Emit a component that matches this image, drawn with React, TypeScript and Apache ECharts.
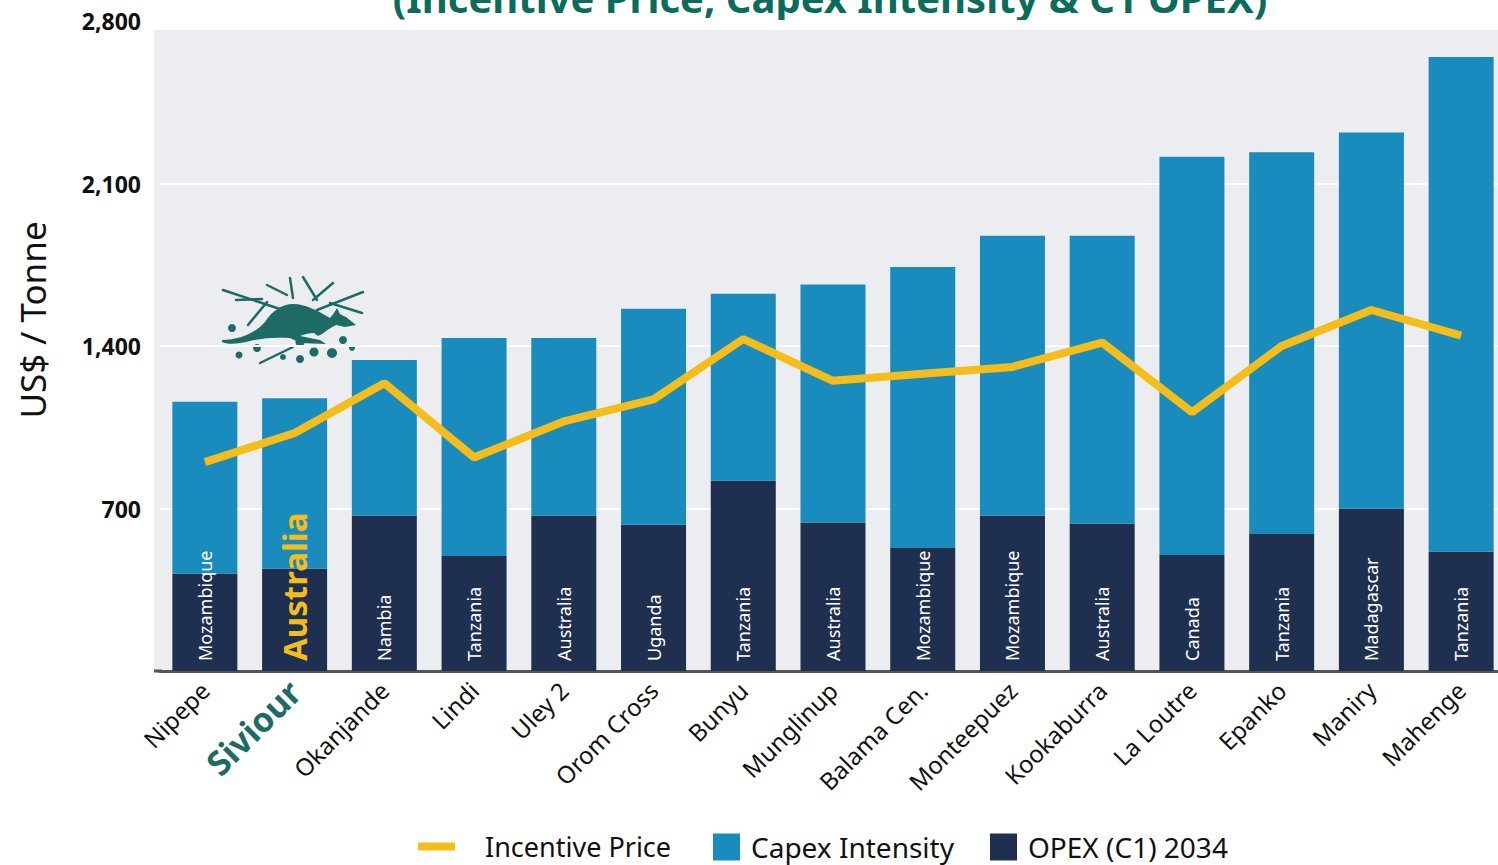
import React, { useEffect, useRef } from "react";
import * as echarts from "echarts";

const categories = ["Nipepe", "Siviour", "Okanjande", "Lindi", "Uley 2", "Orom Cross", "Bunyu", "Munglinup", "Balama Cen.", "Monteepuez", "Kookaburra", "La Loutre", "Epanko", "Maniry", "Mahenge"];
const countries = ["Mozambique", "Australia", "Nambia", "Tanzania", "Australia", "Uganda", "Tanzania", "Australia", "Mozambique", "Mozambique", "Australia", "Canada", "Tanzania", "Madagascar", "Tanzania"];
const opex = [420, 440, 670, 495, 670, 630, 820, 640, 530, 670, 635, 500, 590, 700, 515];
const capex = [740, 735, 670, 940, 765, 930, 805, 1025, 1210, 1205, 1240, 1715, 1645, 1620, 2130];
const incentive = [900, 1025, 1240, 920, 1075, 1170, 1430, 1250, 1280, 1310, 1415, 1115, 1400, 1555, 1445];
const highlight = "Siviour";

const FONT = "'Noto Sans',sans-serif";
const TEAL = "#1d6b64";

const kangarooPath =
  "M222,340 C240,340 255,333 265,322 C272,311 282,304 293,304 C306,304 318,311 330,318 L334,313 L337,308 L340,314 L346,317 L356,325 L345,327 L336,325 C330,328 326,331 322,334 L318,336 L314,333 C310,333 305,334 300,336 L320,340 L326,344 L300,343 L290,338 C275,337 262,338 250,341 C238,344 228,345 222,342 Z";

const sticks = [
  [223, 290, 283, 310],
  [248, 325, 267, 302],
  [290, 278, 293, 298],
  [303, 277, 317, 300],
  [363, 292, 317, 310],
  [333, 283, 313, 300],
  [362, 313, 330, 303],
  [267, 285, 287, 295],
  [236, 300, 262, 299],
  [260, 363, 293, 347],
];
const dots = [
  [232, 328, 4], [239, 355, 3.5], [257, 348, 4], [283, 357, 3], [300, 342, 4.5],
  [300, 359, 4], [314, 352, 4.5], [332, 353, 5], [343, 340, 4], [352, 348, 3],
];

export default function App() {
  const ref = useRef<HTMLDivElement>(null);
  useEffect(() => {
    document.body.style.margin = "0";
    document.body.style.overflow = "hidden";
    document.documentElement.style.overflow = "hidden";
    try {
      echarts.graphic.registerShape("kangaroo", echarts.graphic.extendPath(kangarooPath, {}));
    } catch (e) {}
    const chart = echarts.init(ref.current!, null, { renderer: "svg" });
    const graphics: any[] = [
      { type: "rect", z: -10, shape: { x: 154, y: 30, width: 1352, height: 643 }, style: { fill: "#ecedf1" } },
      { type: "line", shape: { x1: 154, y1: 671, x2: 162, y2: 671 }, style: { stroke: "#555", lineWidth: 3 } },
      {
        type: "text", x: 830, y: 17,
        style: { text: "(Incentive Price, Capex Intensity & C1 OPEX)", fill: "#0b6b5d", font: `bold 40px ${FONT}`, textAlign: "center", textVerticalAlign: "bottom" },
      },
      {
        type: "text", x: 32, y: 320, rotation: Math.PI / 2,
        style: { text: "US$ / Tonne", fill: "#111", font: `35px ${FONT}`, textAlign: "center", textVerticalAlign: "middle" },
      },
      { type: "kangaroo", x: 0, y: 0, style: { fill: TEAL } },
      ...sticks.map((s) => ({ type: "line", shape: { x1: s[0], y1: s[1], x2: s[2], y2: s[3] }, style: { stroke: TEAL, lineWidth: 2.5, lineCap: "round" } })),
      ...dots.map((d) => ({ type: "circle", shape: { cx: d[0], cy: d[1], r: d[2] }, style: { fill: TEAL } })),
    ];
    chart.setOption({
      animation: false,
      grid: { left: 160, right: 0, top: 21, bottom: 194 },
      graphic: graphics,
      legend: [
        {
          data: [{ name: "Incentive Price", icon: "rect" }],
          left: 413, top: 828, itemWidth: 37, itemHeight: 8,
          textStyle: { fontSize: 27, color: "#111", fontFamily: FONT, padding: [0, 0, 0, 25] },
        },
        {
          data: [{ name: "Capex Intensity", icon: "rect" }, { name: "OPEX (C1) 2034", icon: "rect" }],
          left: 708, top: 828, itemWidth: 27, itemHeight: 27, itemGap: 36,
          textStyle: { fontSize: 28, color: "#111", fontFamily: FONT, padding: [0, 0, 0, 6] },
        },
      ],
      xAxis: {
        type: "category",
        data: categories,
        axisLine: { lineStyle: { color: "#555", width: 3 } },
        axisTick: { show: false },
        axisLabel: {
          rotate: 45, margin: 15, fontSize: 24, color: "#111", fontFamily: FONT,
          formatter: (v: string) => (v === highlight ? `{s|${v}}` : v),
          rich: { s: { fontSize: 34, fontWeight: "bold", color: TEAL, fontFamily: FONT } },
        },
      },
      yAxis: {
        type: "value", min: 0, max: 2800, interval: 700,
        axisLine: { show: false }, axisTick: { show: false },
        splitLine: { lineStyle: { color: "#ffffff", width: 2 } },
        axisLabel: {
          margin: 19, fontSize: 23, fontWeight: "bold", color: "#111", fontFamily: FONT,
          formatter: (v: number) => (v === 0 ? "" : v.toLocaleString("en-US")),
        },
      },
      series: [
        {
          name: "OPEX (C1) 2034", type: "bar", stack: "cost", barWidth: 65,
          itemStyle: { color: "#1f2f4f" },
          data: opex.map((v, i) =>
            categories[i] === highlight
              ? { value: v, label: { color: "#f5bd1b", fontSize: 33, fontWeight: "bold" } }
              : v
          ),
          label: {
            show: true, position: "insideBottom", rotate: 90, align: "left", verticalAlign: "middle", distance: 10,
            color: "#fff", fontSize: 18, fontFamily: FONT,
            formatter: (p: any) => countries[p.dataIndex],
          },
        },
        {
          name: "Capex Intensity", type: "bar", stack: "cost", barWidth: 65,
          itemStyle: { color: "#1a8bbd" }, data: capex,
        },
        {
          name: "Incentive Price", type: "line", data: incentive, z: 5,
          symbol: "none", lineStyle: { color: "#f5bd1b", width: 8 }, itemStyle: { color: "#f5bd1b" },
        },
      ],
    });
    return () => chart.dispose();
  }, []);
  return <div ref={ref} style={{ width: 1506, height: 865, overflow: "hidden" }} />;
}
